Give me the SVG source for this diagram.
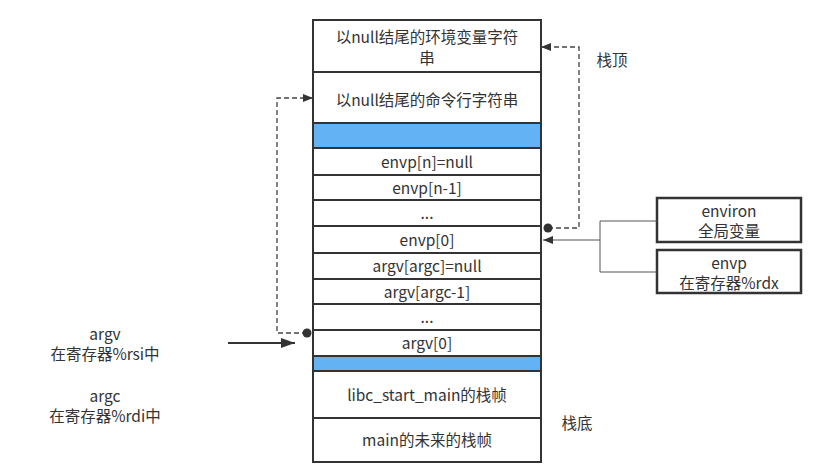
<svg xmlns="http://www.w3.org/2000/svg" width="832" height="470" viewBox="0 0 832 470">
<defs>
<style>
text{font-family:"Noto Sans CJK SC","Noto Sans",sans-serif;font-size:15.5px;fill:#333;text-anchor:middle;dominant-baseline:central}
.row{fill:#fff;stroke:#333;stroke-width:2}
.blue{fill:#62b2f4;stroke:#333;stroke-width:2}
.box{fill:#fff;stroke:#333;stroke-width:2.5}
.dash{fill:none;stroke:#444;stroke-width:1.3;stroke-dasharray:5,3}
.thin{fill:none;stroke:#555;stroke-width:1}
.solid{fill:none;stroke:#333;stroke-width:2}
</style>
<marker id="ah" viewBox="0 0 10 10" refX="10" refY="5" markerWidth="10" markerHeight="10" markerUnits="userSpaceOnUse" orient="auto"><path d="M0,1 L10,5 L0,9 Z" fill="#333"/></marker>
<marker id="ah2" viewBox="0 0 10 10" refX="10" refY="5" markerWidth="14" markerHeight="14" markerUnits="userSpaceOnUse" orient="auto"><path d="M0,1.5 L10,5 L0,8.5 Z" fill="#333"/></marker>
</defs>
<g id="stack">
<g id="env-strings"><rect class="row" x="313" y="20" width="228" height="52"/><text x="427" y="36">以null结尾的环境变量字符</text><text x="427" y="57">串</text></g>
<g id="arg-strings"><rect class="row" x="313" y="72" width="228" height="51"/><text x="427" y="99">以null结尾的命令行字符串</text></g>
<g id="pad1"><rect class="blue" x="313" y="123" width="228" height="25"/></g>
<g id="envp-n"><rect class="row" x="313" y="148" width="228" height="27"/><text x="427" y="161">envp[n]=null</text></g>
<g id="envp-n1"><rect class="row" x="313" y="175" width="228" height="25"/><text x="427" y="187">envp[n-1]</text></g>
<g id="envp-dots"><rect class="row" x="313" y="200" width="228" height="26"/><text x="427" y="212">...</text></g>
<g id="envp-0"><rect class="row" x="313" y="226" width="228" height="27"/><text x="427" y="239">envp[0]</text></g>
<g id="argv-argc"><rect class="row" x="313" y="253" width="228" height="26"/><text x="427" y="265">argv[argc]=null</text></g>
<g id="argv-argc1"><rect class="row" x="313" y="279" width="228" height="25"/><text x="427" y="291">argv[argc-1]</text></g>
<g id="argv-dots"><rect class="row" x="313" y="304" width="228" height="26"/><text x="427" y="316">...</text></g>
<g id="argv-0"><rect class="row" x="313" y="330" width="228" height="26"/><text x="427" y="342">argv[0]</text></g>
<g id="pad2"><rect class="blue" x="313" y="356" width="228" height="15"/></g>
<g id="libc-frame"><rect class="row" x="313" y="371" width="228" height="47"/><text x="427" y="394">libc_start_main的栈帧</text></g>
<g id="main-frame"><rect class="row" x="313" y="418" width="228" height="44"/><text x="427" y="439">main的未来的栈帧</text></g>
</g>
<g id="environ"><rect class="box" x="657" y="198" width="144" height="44"/><text x="729" y="210">environ</text><text x="729" y="230">全局变量</text></g>
<g id="envp"><rect class="box" x="657" y="250" width="144" height="43"/><text x="729" y="261.5">envp</text><text x="729" y="281.5">在寄存器%rdx</text></g>
<g id="labels">
<text x="612" y="59">栈顶</text>
<text x="577" y="422">栈底</text>
<text x="105" y="333">argv</text>
<text x="105" y="353">在寄存器%rsi中</text>
<text x="105" y="395">argc</text>
<text x="105" y="415">在寄存器%rdi中</text>
</g>
<g id="connectors">
<path class="dash" d="M548,228 H579 V47 H541" marker-end="url(#ah)"/>
<circle cx="548" cy="228" r="4.5" fill="#333"/>
<path class="dash" d="M307,333 H277 V98 H313" marker-end="url(#ah)"/>
<circle cx="307" cy="333" r="4.5" fill="#333"/>
<path class="thin" d="M657,221 H600 V272 H657"/>
<path class="thin" d="M600,240 H543" marker-end="url(#ah)"/>
<path class="solid" d="M228,343 H295" marker-end="url(#ah2)"/>
</g>
</svg>
